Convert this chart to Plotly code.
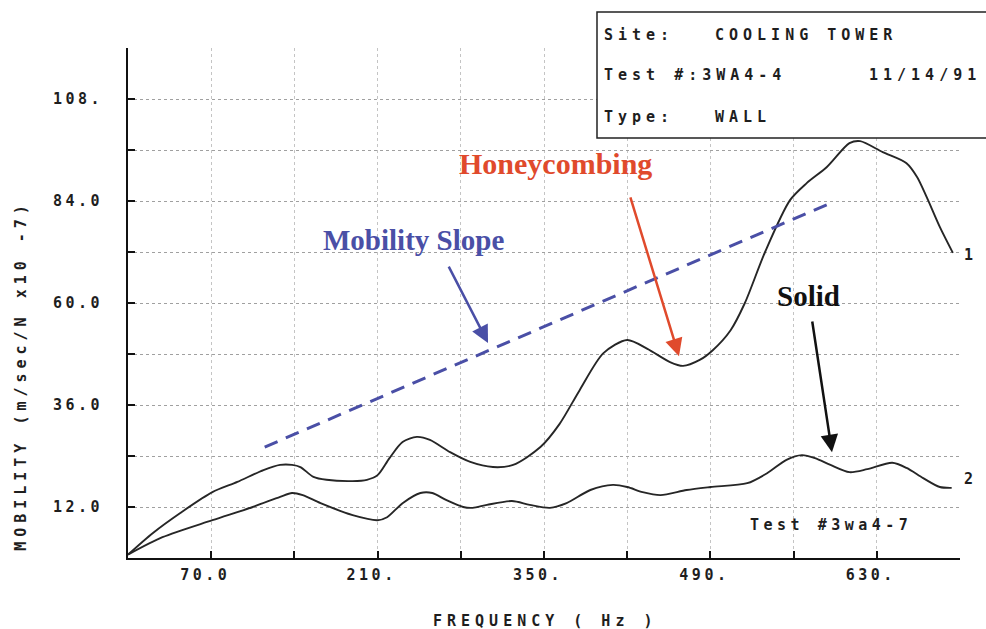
import plotly.graph_objects as go

# ---- data ----
freq_wall = [0, 21, 44, 71, 92, 114, 128, 138, 145, 156, 167, 189, 201, 210, 220, 231, 243, 254, 271, 288,
             307, 324, 347, 363, 380, 400, 420, 437, 456, 467, 481, 492, 507, 519, 536, 557, 571, 588, 607, 616,
             635, 655, 664, 672, 683, 694]
mob_wall = [0.8, 5.9, 10.6, 15.5, 17.9, 20.7, 21.9, 21.9, 21.4, 19.1, 18.4, 18.1, 18.4, 19.5, 23.5, 27.3, 28.5, 27.8, 24.9, 22.6,
            21.4, 21.9, 26.1, 31.5, 39.5, 48.2, 51.3, 49.2, 46.1, 45.2, 46.6, 48.9, 53.6, 60.0, 72.0, 84.2, 88.2, 92.0, 97.6, 98.1,
            95.5, 92.9, 89.6, 84.9, 77.9, 71.8]

freq_solid = [0, 29, 71, 105, 128, 138, 147, 162, 189, 210, 218, 231, 246, 256, 268, 282, 290, 302, 323, 338,
              355, 369, 389, 408, 420, 433, 448, 470, 490, 521, 538, 554, 567, 578, 591, 607, 622, 643, 655, 669,
              683, 693]
mob_solid = [0.8, 4.9, 8.9, 12.0, 14.4, 15.3, 14.8, 12.9, 10.1, 8.9, 9.6, 12.9, 15.3, 15.3, 13.6, 12.0, 11.8, 12.5, 13.4, 12.5,
             11.8, 12.9, 16.0, 17.2, 16.7, 15.5, 14.8, 16.0, 16.7, 17.6, 20.0, 23.1, 24.2, 23.5, 21.9, 20.2, 20.9, 22.4, 21.2, 18.8,
             16.7, 16.5]

slope_freq = [115, 591]
slope_mob = [26.1, 83.5]

x_tickvals = [70, 140, 210, 280, 350, 420, 490, 560, 630, 700]
x_ticktext = ["70.0", "", "210.", "", "350.", "", "490.", "", "630.", ""]
y_tickvals = [12, 24, 36, 48, 60, 72, 84, 96, 108, 120]
y_ticktext = ["12.0", "", "36.0", "", "60.0", "", "84.0", "", "108.", ""]

# ---- styling helpers ----
MONO = "DejaVu Sans Mono"
SERIF = "Liberation Serif"
INK = "#1e1e1e"
BLUE = "#4a4fa6"
RED = "#e04a2c"


def ls(s, sp=5):
    return f'<span style="letter-spacing:{sp}px">{s}</span>'


fig = go.Figure()
fig.add_trace(go.Scatter(x=freq_wall, y=mob_wall, mode="lines",
                         line=dict(color="#262626", width=1.9, shape="spline", smoothing=0.8),
                         showlegend=False, hoverinfo="skip"))
fig.add_trace(go.Scatter(x=freq_solid, y=mob_solid, mode="lines",
                         line=dict(color="#262626", width=1.9, shape="spline", smoothing=0.8),
                         showlegend=False, hoverinfo="skip"))
fig.add_trace(go.Scatter(x=slope_freq, y=slope_mob, mode="lines",
                         line=dict(color=BLUE, width=3, dash="14px,9px"),
                         showlegend=False, hoverinfo="skip"))

axis_common = dict(
    showline=True, linecolor="#111", linewidth=2, mirror=False, automargin=False,
    ticks="inside", ticklen=7, tickwidth=2, tickcolor="#111",
    tickmode="array", showgrid=True, griddash="dot", gridwidth=1,
    zeroline=False, tickfont=dict(family=MONO, size=15, color=INK, weight=700),
)

fig.update_xaxes(range=[0, 700], tickvals=x_tickvals, gridcolor="#c4c4c4",
                 ticktext=[ls(t, 3.5) for t in x_ticktext], ticklabelstandoff=2, ticklabelshift=-6,
                 **axis_common)
fig.update_yaxes(range=[0, 120], tickvals=y_tickvals, gridcolor="#a0a0a0",
                 ticktext=[ls(t, 3.5) for t in y_ticktext], ticklabelstandoff=20, **axis_common)

ann = []
mono_font = dict(family=MONO, size=15, color=INK, weight=700)

# info box text
for txt, x, y in [("Site:", 0.5697, 1.0255), ("COOLING TOWER", 0.7031, 1.0255),
                  ("Test #:3WA4-4", 0.5697, 0.947), ("11/14/91", 0.8882, 0.947),
                  ("Type:", 0.5697, 0.8647), ("WALL", 0.7031, 0.8647)]:
    ann.append(dict(text=ls(txt, 5), x=x, y=y, xref="paper", yref="paper",
                    xanchor="left", yanchor="middle", showarrow=False, font=mono_font))

# curve labels
ann.append(dict(text="1", x=1.018, y=0.594, xref="paper", yref="paper", showarrow=False, font=mono_font))
ann.append(dict(text="2", x=1.018, y=0.1333, xref="paper", yref="paper", showarrow=False, font=mono_font))
ann.append(dict(text=ls("Test #3wa4-7", 4.5), x=591.5, y=7.8, xref="x", yref="y", showarrow=False, font=mono_font))

# axis titles
ann.append(dict(text=ls("MOBILITY (m/sec/N x10 -7)", 5), x=-0.142, y=0.3588, xref="paper", yref="paper",
                textangle=-90, showarrow=False, font=mono_font))
ann.append(dict(text=ls("FREQUENCY ( Hz )", 5), x=0.5024, y=-0.145, xref="paper", yref="paper",
                showarrow=False, font=mono_font))

# callouts
ann.append(dict(text="Honeycombing", x=360, y=92.9, xref="x", yref="y", showarrow=False,
                font=dict(family=SERIF, size=30, color=RED, weight=700)))
ann.append(dict(text="Mobility Slope", x=240, y=74.8, xref="x", yref="y", showarrow=False,
                font=dict(family=SERIF, size=29, color=BLUE, weight=700)))
ann.append(dict(text="Solid", x=572.5, y=61.6, xref="x", yref="y", showarrow=False,
                font=dict(family=SERIF, size=29, color="#111", weight=700)))

# arrows
for (tx, ty, hx, hy, col) in [(269.2, 68.9, 302.9, 50.6, BLUE),
                              (422.3, 85.2, 463.6, 47.5, RED),
                              (575.5, 56.0, 592.3, 24.9, "#111")]:
    ann.append(dict(text="", x=hx, y=hy, ax=tx, ay=ty, xref="x", yref="y", axref="x", ayref="y",
                    showarrow=True, arrowhead=2, arrowsize=1.4, arrowwidth=2.5, arrowcolor=col))

fig.update_layout(
    width=986, height=629,
    margin=dict(l=128, r=26, t=48, b=71, autoexpand=False),
    paper_bgcolor="white", plot_bgcolor="white",
    annotations=ann,
    shapes=[dict(type="rect", xref="paper", yref="paper", x0=0.5637, x1=1.05, y0=0.8235, y1=1.0706,
                 line=dict(color="#222", width=1.5), fillcolor="white", layer="above")],
)

fig.write_html("out.html")
